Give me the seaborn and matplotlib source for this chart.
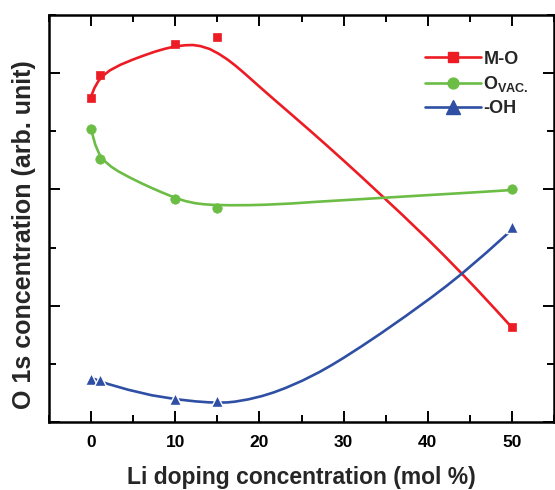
import numpy as np
import pandas as pd
import matplotlib
matplotlib.use("Agg")
import matplotlib.pyplot as plt
from matplotlib.lines import Line2D
from matplotlib.ticker import MultipleLocator, NullFormatter
import seaborn as sns

# ---- measured data points ----
li_conc = [0, 1, 10, 15, 50]
mo_vals = [5.58, 5.97, 6.50, 6.63, 1.63]
ovac_vals = [5.04, 4.52, 3.84, 3.68, 4.00]
oh_vals = [0.745, 0.722, 0.396, 0.366, 3.35]

# ---- smooth trend curves ----
mo_fit_x = [0, 0.4, 0.87, 1.5, 2.26, 3.5, 5.0, 6.3, 7.6, 8.8, 10, 11.2, 12.1, 13, 14.1, 15.2, 16.2, 17.1, 18.0,
            18.9, 20.3, 22, 24, 26, 28, 30, 32, 34.8, 37, 40, 42, 44.1, 46, 48, 50]
mo_fit_y = [5.60, 5.745, 5.865, 5.965, 6.05, 6.145, 6.235, 6.305, 6.37, 6.42, 6.46, 6.48, 6.484, 6.465, 6.415,
            6.33, 6.235, 6.135, 6.025, 5.91, 5.73, 5.515, 5.265, 5.013, 4.757, 4.497, 4.233, 3.857, 3.56, 3.143,
            2.855, 2.544, 2.255, 1.943, 1.625]
ovac_fit_x = [0, 0.25, 0.5, 1.0, 1.67, 2.4, 3.25, 4.6, 6.0, 7.2, 8.4, 10, 11.2, 12.4, 13.4, 14.4, 16.5, 18.9,
              20.7, 23.8, 26.9, 30.8, 34.6, 38.6, 42.7, 46.5, 50]
ovac_fit_y = [5.04, 4.90, 4.77, 4.60, 4.48, 4.39, 4.31, 4.205, 4.105, 4.025, 3.95, 3.855, 3.80, 3.762, 3.745,
              3.735, 3.728, 3.73, 3.737, 3.758, 3.788, 3.822, 3.855, 3.89, 3.925, 3.958, 3.99]
oh_fit_x = [0, 1.87, 4.4, 7.2, 10.2, 12.4, 14.0, 15.2, 16.2, 17.1, 18.7, 20.3, 21.7, 23.1, 25.1, 27.1, 28.6, 30,
            32.2, 34.4, 37.4, 40.4, 42.2, 44.1, 47.0, 50]
oh_fit_y = [0.76, 0.66, 0.555, 0.46, 0.39, 0.355, 0.338, 0.333, 0.337, 0.35, 0.39, 0.446, 0.509, 0.585, 0.711,
            0.857, 0.98, 1.103, 1.308, 1.521, 1.824, 2.139, 2.337, 2.557, 2.917, 3.307]

labels = ["M-O", r"O$_{\mathbf{VAC.}}$", "-OH"]
colors = ["#ED1C24", "#6CBD45", "#2E4FA3"]
markers = ["s", "o", "^"]
msizes = [6.3, 6.8, 8.5]

sns.set_style("ticks")
plt.rcParams["font.family"] = ["Liberation Sans", "DejaVu Sans"]
plt.rcParams["font.weight"] = "bold"
plt.rcParams["mathtext.fontset"] = "custom"
plt.rcParams["mathtext.rm"] = "Liberation Sans:bold"
plt.rcParams["mathtext.bf"] = "Liberation Sans:bold"
plt.rcParams["mathtext.default"] = "bf"

fig = plt.figure(figsize=(5.55, 4.90), dpi=100)
ax = fig.add_axes([49 / 555, 68 / 490, 505 / 555, 407 / 490])

fits = [(mo_fit_x, mo_fit_y), (ovac_fit_x, ovac_fit_y), (oh_fit_x, oh_fit_y)]
pts = [mo_vals, ovac_vals, oh_vals]
for i in range(3):
    df_fit = pd.DataFrame({"x": fits[i][0], "y": fits[i][1]})
    sns.lineplot(data=df_fit, x="x", y="y", ax=ax, color=colors[i], lw=1.9,
                 sort=False, estimator=None, zorder=2)
    df_pts = pd.DataFrame({"x": li_conc, "y": pts[i]})
    edge = "white" if i == 2 else colors[i]
    ax.plot(df_pts["x"], df_pts["y"], linestyle="none", marker=markers[i],
            markersize=msizes[i], color=colors[i], markeredgecolor=edge,
            markeredgewidth=1.0 if i == 2 else 0.5, zorder=3)

ax.set_xlim(-5, 55)
ax.set_ylim(0, 7)
ax.xaxis.set_major_locator(MultipleLocator(10))
ax.xaxis.set_minor_locator(MultipleLocator(5))
ax.yaxis.set_major_locator(MultipleLocator(2))
ax.yaxis.set_minor_locator(MultipleLocator(1))
ax.yaxis.set_major_formatter(NullFormatter())
ax.tick_params(which="both", direction="in", top=True, right=True, width=1.4, colors="black")
ax.tick_params(which="major", length=8, labelsize=12.5, pad=9)
ax.tick_params(which="minor", length=5)
for lab in ax.get_xticklabels():
    lab.set_fontweight("bold")
for sp in ax.spines.values():
    sp.set_linewidth(1.8)
    sp.set_color("black")

ax.set_xlabel("Li doping concentration (mol %)", fontsize=16.5, fontweight="bold", labelpad=12)
ax.set_ylabel("O 1s concentration (arb. unit)", fontsize=18, fontweight="bold")
ax.yaxis.set_label_coords(-0.026, 0.46)

handles = [Line2D([], [], color=colors[i], lw=1.9, marker=markers[i], markersize=msizes[i] + 1,
                  markeredgecolor=colors[i]) for i in range(3)]
leg = ax.legend(handles, labels, loc="upper left", bbox_to_anchor=(0.712, 0.952), frameon=False,
                handlelength=3.1, handletextpad=0.15, labelspacing=0.35,
                prop={"weight": "bold", "size": 13})

fig.savefig("out.png", dpi=100)
